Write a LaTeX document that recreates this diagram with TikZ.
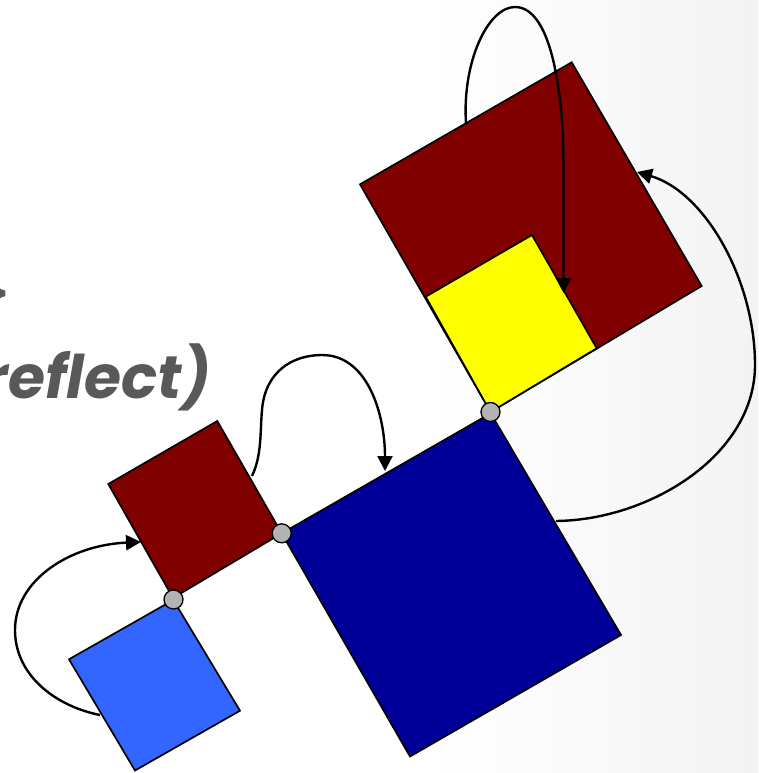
\documentclass[tikz,border=0pt]{standalone}
\usepackage{fontspec}
\newfontfamily\gfont{Poppins}
\usetikzlibrary{arrows.meta}
\definecolor{dred}{HTML}{800000}
\definecolor{dblue}{HTML}{000099}
\definecolor{lblue}{HTML}{3366FF}
\definecolor{yel}{HTML}{FFFF00}
\definecolor{txtgray}{HTML}{595959}
\definecolor{dotgray}{HTML}{B3B3B3}
\definecolor{bgr}{HTML}{F3F3F3}
\tikzset{
  sq/.style={draw=black, line width=1.7pt, line join=miter},
  hinge/.style={circle, draw=black, line width=1.3pt, fill=dotgray, minimum size=19pt, inner sep=0pt},
  link/.style={draw=black, line width=2.4pt, -{Triangle[length=15pt,width=15pt]}},
  lbl/.style={inner sep=0pt, text=txtgray, font=\gfont\fontsize{60}{60}\selectfont}
}
\begin{document}
\begin{tikzpicture}[x=1pt,y=-1pt]
\useasboundingbox (0,0) rectangle (758,773);
\fill[white] (0,0) rectangle (758,773);
\shade[left color=white, right color=bgr] (430,0) rectangle (758,773);

% texts
\node[inner sep=0pt, text=txtgray, font=\gfont\fontsize{82}{82}\selectfont, anchor=base east] (brace) at (15,324) {\}};
\node[lbl, anchor=base east] (refl) at (211,398) {\bfseries\itshape reflect)};

% big red square with yellow
\coordinate (R1t) at (571.7,62.3);
\coordinate (R1l) at (360,184.3);
\coordinate (R1r) at (701.7,286);
\coordinate (R1b) at (490.5,412);
\fill[dred, sq] (R1t) -- (R1r) -- (R1b) -- (R1l) -- cycle;

\coordinate (Yt) at (532,235);
\coordinate (Yl) at (425.7,296.7);
\coordinate (Yr) at (596.7,348.3);
\fill[yel, sq] (Yt) -- (Yr) -- (R1b) -- (Yl) -- cycle;

% big blue square
\coordinate (Bt) at (490.7,413.3);
\coordinate (Bl) at (281.7,533.3);
\coordinate (Br) at (621,635);
\coordinate (Bb) at (410,756.5);
\fill[dblue, sq] (Bt) -- (Br) -- (Bb) -- (Bl) -- cycle;

% small red square
\coordinate (St) at (217.3,421);
\coordinate (Sl) at (108.3,484);
\coordinate (Sr) at (281.7,533.3);
\coordinate (Sb) at (173,598);
\fill[dred, sq] (St) -- (Sr) -- (Sb) -- (Sl) -- cycle;

% light blue square
\coordinate (Lt) at (173.3,600);
\coordinate (Ll) at (69,659.3);
\coordinate (Lr) at (240,710.7);
\coordinate (Lb) at (135,770.5);
\fill[lblue, sq] (Lt) -- (Lr) -- (Lb) -- (Ll) -- cycle;

% hinges
\node[hinge] (h1) at (490.5,412) {};
\node[hinge] (h2) at (281.7,533.3) {};
\node[hinge] (h3) at (173.5,599.5) {};

% connectors
\coordinate (a1s) at (100,715);
\coordinate (a1e) at (141,542);
\draw[link] (a1s) .. controls (55,706) and (15,675) .. (15,630)
  .. controls (15,580) and (70,545) .. (a1e);

\coordinate (a2s) at (252,476);
\coordinate (a2e) at (385,471);
\draw[link] (a2s) .. controls (262,455) and (260,432) .. (262,410)
  .. controls (265,372) and (292,355) .. (322,355)
  .. controls (368,355) and (385,415) .. (a2e);

\coordinate (a3s) at (466,123);
\coordinate (a3e) at (563.5,293);
\draw[link] (a3s) .. controls (462,62) and (488,7) .. (515,7)
  .. controls (553,7) and (563.5,100) .. (563.5,165) -- (a3e);

\coordinate (a4s) at (556,521);
\coordinate (a4e) at (637,172);
\draw[link] (a4s) .. controls (650,520) and (755,455) .. (755,365)
  .. controls (755,280) and (705,192) .. (a4e);
\end{tikzpicture}
\end{document}
